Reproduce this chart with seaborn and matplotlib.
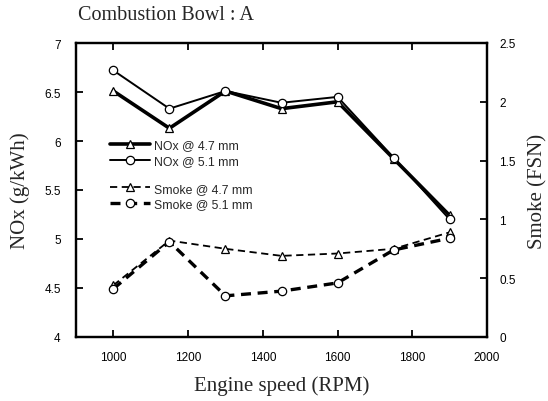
import numpy as np
import pandas as pd
import matplotlib
matplotlib.use("Agg")
import matplotlib.pyplot as plt
from matplotlib.lines import Line2D
import seaborn as sns

# data
rpm = [1000, 1150, 1300, 1450, 1600, 1750, 1900]
nox_47 = [6.51, 6.13, 6.51, 6.33, 6.40, 5.82, 5.24]
nox_51 = [6.72, 6.33, 6.51, 6.39, 6.45, 5.83, 5.20]
smoke_47 = [0.44, 0.82, 0.75, 0.69, 0.71, 0.75, 0.89]
smoke_51 = [0.41, 0.81, 0.35, 0.39, 0.46, 0.74, 0.84]

x_ticks = [1000, 1200, 1400, 1600, 1800, 2000]
left_ticks = [4, 4.5, 5, 5.5, 6, 6.5, 7]
right_ticks = [0, 0.5, 1, 1.5, 2, 2.5]

sns.set_style("ticks")
serif = "Liberation Serif"
sans = "Liberation Sans"
plt.rcParams["font.family"] = [sans, "DejaVu Sans"]

fig, ax = plt.subplots(figsize=(5.48, 4.02), dpi=100)
fig.subplots_adjust(left=76/548, right=487/548, top=1-44/402, bottom=1-338/402)
ax2 = ax.twinx()

mk = dict(markerfacecolor="white", markeredgecolor="black", markersize=6, markeredgewidth=0.9)

sns.lineplot(x=rpm, y=nox_47, ax=ax, color="black", lw=2.6, marker="^", **mk)
sns.lineplot(x=rpm, y=nox_51, ax=ax, color="black", lw=1.4, marker="o", **mk)
sns.lineplot(x=rpm, y=smoke_47, ax=ax2, color="black", lw=1.3, marker="^", linestyle=(0, (4, 2.5)), **mk)
sns.lineplot(x=rpm, y=smoke_51, ax=ax2, color="black", lw=2.4, marker="o", linestyle=(0, (3, 2)), **mk)

ax.set_xlim(900, 2000)
ax.set_ylim(4, 7)
ax2.set_ylim(0, 2.5)
ax.set_xticks(x_ticks)
ax.set_xticklabels([str(t) for t in x_ticks])
ax.set_yticks(left_ticks)
ax.set_yticklabels([f"{t:g}" for t in left_ticks])
ax2.set_yticks(right_ticks)
ax2.set_yticklabels([f"{t:g}" for t in right_ticks])

for a in (ax, ax2):
    for s in a.spines.values():
        s.set_visible(True)
        s.set_linewidth(1.6)
        s.set_color("black")
    a.tick_params(direction="in", length=5, width=1.3, labelsize=8.5, colors="black")
ax.tick_params(axis="x", top=True, pad=10)
ax.tick_params(axis="y", left=True, right=False, pad=11)
ax2.tick_params(axis="y", right=True, left=False, pad=9)

ax.set_xlabel("Engine speed (RPM)", family=serif, fontsize=15, labelpad=9)
ax.set_ylabel("NOx (g/kWh)", family=serif, fontsize=15, labelpad=10)
ax2.set_ylabel("Smoke (FSN)", family=serif, fontsize=15, labelpad=9)
fig.text(78/548, 1-15/402, "Combustion Bowl : A", family=serif, fontsize=14.5, va="center", ha="left")

# two legend blocks, NOx and smoke
leg_kw = dict(loc="upper left", frameon=False, fontsize=8.8, handlelength=3.3,
              handletextpad=0.3, labelspacing=0.3, borderpad=0, borderaxespad=0)
nox_handles = [
    Line2D([], [], color="black", lw=2.6, marker="^", **mk),
    Line2D([], [], color="black", lw=1.4, marker="o", **mk),
]
smoke_handles = [
    Line2D([], [], color="black", lw=1.3, marker="^", linestyle=(0, (4, 2.5)), **mk),
    Line2D([], [], color="black", lw=2.4, marker="o", linestyle=(0, (3, 2)), **mk),
]
leg1 = ax2.legend(nox_handles, ["NOx @ 4.7 mm", "NOx @ 5.1 mm"], bbox_to_anchor=(0.083, 0.672), **leg_kw)
ax2.add_artist(leg1)
ax2.legend(smoke_handles, ["Smoke @ 4.7 mm", "Smoke @ 5.1 mm"], bbox_to_anchor=(0.083, 0.525), **leg_kw)

fig.savefig("out.png", dpi=100)
